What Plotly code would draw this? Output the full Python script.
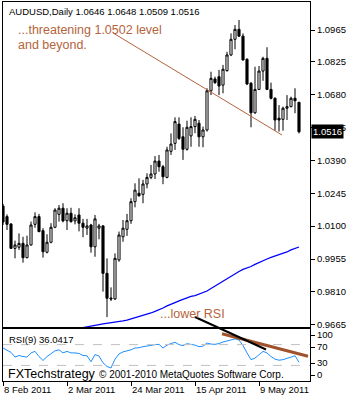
import plotly.graph_objects as go
import pandas as pd

# ---------------- data ----------------
dates = [d.strftime("%Y-%m-%d") for d in pd.bdate_range("2011-02-08", "2011-05-23")]

opens = [1.0189, 1.0142, 1.0109, 1.0002, 1.0007, 1.0024, 0.9961, 1.0017, 1.0108, 1.0142,
         1.0080, 0.9985, 1.0029, 1.0095, 1.0152, 1.0179, 1.0124, 1.0157, 1.0123, 1.0149,
         1.0113, 1.0091, 1.0105, 1.0009, 1.0091, 1.0101, 0.9892, 0.9783, 0.9779, 0.9951,
         1.0053, 1.0086, 1.0124, 1.0208, 1.0245, 1.0240, 1.0286, 1.0315, 1.0330, 1.0387,
         1.0362, 1.0315, 1.0430, 1.0465, 1.0550, 1.0494, 1.0439, 1.0498, 1.0539, 1.0554,
         1.0494, 1.0524, 1.0697, 1.0749, 1.0759, 1.0722, 1.0786, 1.0855, 1.0924, 1.0968,
         1.0938, 1.0836, 1.0730, 1.0600, 1.0703, 1.0784, 1.0840, 1.0703, 1.0664, 1.0576,
         1.0571, 1.0620, 1.0627, 1.0664, 1.0646]
highs = [1.0198, 1.0152, 1.0114, 1.0036, 1.0068, 1.0053, 1.0058, 1.0120, 1.0161, 1.0154,
         1.0091, 1.0064, 1.0113, 1.0179, 1.0193, 1.0201, 1.0179, 1.0181, 1.0152, 1.0179,
         1.0132, 1.0132, 1.0110, 1.0149, 1.0110, 1.0105, 0.9958, 0.9830, 0.9980, 1.0076,
         1.0127, 1.0154, 1.0223, 1.0289, 1.0311, 1.0304, 1.0333, 1.0370, 1.0409, 1.0414,
         1.0370, 1.0450, 1.0509, 1.0580, 1.0580, 1.0536, 1.0565, 1.0580, 1.0586, 1.0568,
         1.0539, 1.0708, 1.0781, 1.0759, 1.0789, 1.0811, 1.0869, 1.0950, 1.0987, 1.1009,
         1.0950, 1.0840, 1.0736, 1.0803, 1.0806, 1.0847, 1.0889, 1.0733, 1.0668, 1.0634,
         1.0627, 1.0678, 1.0671, 1.0708, 1.0648]
lows = [1.0105, 1.0083, 1.0001, 0.9958, 0.9995, 0.9939, 0.9958, 1.0014, 1.0093, 1.0073,
        0.9961, 0.9980, 1.0024, 1.0091, 1.0120, 1.0117, 1.0083, 1.0115, 1.0108, 1.0077,
        1.0051, 1.0061, 0.9983, 0.9965, 1.0042, 0.9811, 0.9699, 0.9770, 0.9774, 0.9943,
        1.0031, 1.0057, 1.0110, 1.0183, 1.0230, 1.0201, 1.0267, 1.0307, 1.0308, 1.0340,
        1.0285, 1.0311, 1.0414, 1.0436, 1.0480, 1.0392, 1.0433, 1.0450, 1.0510, 1.0450,
        1.0448, 1.0517, 1.0678, 1.0727, 1.0678, 1.0686, 1.0781, 1.0850, 1.0880, 1.0935,
        1.0830, 1.0722, 1.0536, 1.0595, 1.0700, 1.0741, 1.0700, 1.0659, 1.0521, 1.0517,
        1.0521, 1.0568, 1.0624, 1.0598, 1.0509]
closes = [1.0118, 1.0108, 1.0002, 1.0017, 1.0024, 0.9961, 1.0017, 1.0105, 1.0142, 1.0076,
          0.9987, 1.0029, 1.0095, 1.0171, 1.0179, 1.0123, 1.0157, 1.0120, 1.0137, 1.0113,
          1.0095, 1.0101, 1.0009, 1.0132, 1.0101, 0.9892, 0.9782, 0.9779, 0.9958, 1.0061,
          1.0091, 1.0124, 1.0208, 1.0259, 1.0234, 1.0286, 1.0315, 1.0330, 1.0387, 1.0362,
          1.0318, 1.0436, 1.0462, 1.0561, 1.0487, 1.0439, 1.0536, 1.0539, 1.0571, 1.0494,
          1.0524, 1.0697, 1.0752, 1.0733, 1.0718, 1.0792, 1.0855, 1.0924, 1.0968, 1.0938,
          1.0833, 1.0727, 1.0600, 1.0703, 1.0784, 1.0840, 1.0703, 1.0664, 1.0568, 1.0568,
          1.0620, 1.0627, 1.0664, 1.0653, 1.0516]

# long moving average (blue), only visible from late Feb onward
ma = [None] * 19 + [
    0.9649, 0.9653, 0.9657, 0.9660, 0.9662, 0.9666, 0.9669, 0.9671, 0.9673, 0.9675,
    0.9677, 0.9682, 0.9686, 0.9691, 0.9695, 0.9699, 0.9704, 0.9710, 0.9717, 0.9724,
    0.9730, 0.9739, 0.9748, 0.9757, 0.9763, 0.9770, 0.9777, 0.9783, 0.9790, 0.9794,
    0.9801, 0.9805, 0.9814, 0.9825, 0.9836, 0.9847, 0.9858, 0.9867, 0.9878, 0.9889,
    0.9900, 0.9909, 0.9915, 0.9922, 0.9931, 0.9940, 0.9946, 0.9955, 0.9962, 0.9968,
    0.9973, 0.9977, 0.9986, 0.9995, 1.0001, 1.0008]

rsi = [63.5, 59, 55, 46, 49, 47, 46, 54, 57, 47,
       39.4, 47, 52, 58, 60, 54, 57, 54, 54, 53,
       49, 48.5, 37, 51, 48, 35, 28, 25, 42, 52,
       56, 58, 60, 63.5, 64, 66, 66.6, 68.5, 70, 70.5,
       63.5, 69, 72, 74.4, 70, 68, 71.8, 70.5, 69, 66,
       67, 73, 71, 70.5, 72, 75, 77.5, 80, 81, 79,
       68, 54, 41, 44, 51, 57, 54, 47, 42, 40,
       41, 43, 46, 48.5, 36.0417]

price_ticks = [1.0965, 1.0825, 1.0680, 1.0535, 1.0390, 1.0245, 1.0100, 0.9955, 0.9810, 0.9665]
rsi_ticks = [100, 70, 30, 0]
date_tick_idx = [0, 16, 32, 48, 64]
date_tick_labels = ["8 Feb 2011", "2 Mar 2011", "24 Mar 2011", "15 Apr 2011", "9 May 2011"]

# ---------------- layout geometry ----------------
W, H = 350, 400
ML, MR, MT, MB = 3, 40, 2, 19
PH = H - MT - MB


def pp(py):  # pixel row -> paper y
    return (H - MB - py) / PH


FONT = "Tahoma, 'Liberation Sans', Arial, sans-serif"
BROWN = "#B4643C"
main_dom = [pp(327), 1.0]
rsi_dom = [0.0, pp(329)]
xr = [0, 76.75]

fig = go.Figure()
fig.add_trace(go.Candlestick(
    x=dates, open=opens, high=highs, low=lows, close=closes,
    increasing=dict(line=dict(color="black", width=1), fillcolor="white"),
    decreasing=dict(line=dict(color="black", width=1), fillcolor="black"),
    whiskerwidth=0, xaxis="x", yaxis="y", showlegend=False, hoverinfo="skip"))
fig.add_trace(go.Scatter(x=dates, y=ma, mode="lines", line=dict(color="#0000FF", width=1.3),
                         xaxis="x", yaxis="y", showlegend=False, hoverinfo="skip"))
fig.add_trace(go.Scatter(x=dates, y=rsi, mode="lines", line=dict(color="#1E90FF", width=1),
                         xaxis="x2", yaxis="y2", showlegend=False, hoverinfo="skip"))
fig.add_trace(go.Scatter(x=[], y=[], xaxis="x2", yaxis="y3", showlegend=False))

axis_common = dict(showgrid=False, zeroline=False, showline=True, mirror=True,
                   linecolor="black", linewidth=1)
fig.update_layout(
    width=W, height=H, autosize=False,
    margin=dict(l=ML, r=MR, t=MT, b=MB, pad=0),
    paper_bgcolor="white", plot_bgcolor="white",
    font=dict(family=FONT, size=9.5, color="black"),
    boxgap=0.25, showlegend=False,
    xaxis=dict(domain=[0, 1], anchor="y", type="category", range=xr, showticklabels=False,
               ticks="", rangeslider=dict(visible=False), **axis_common),
    xaxis2=dict(domain=[0, 1], anchor="y2", type="category", range=xr,
                tickvals=[dates[i] for i in date_tick_idx], ticktext=date_tick_labels,
                ticks="outside", ticklen=4, tickcolor="black",
                ticklabelposition="outside right", tickfont=dict(size=9.5),
                **axis_common),
    yaxis=dict(domain=main_dom, anchor="x", side="right", range=[0.96552, 1.10885],
               tickvals=price_ticks, ticktext=[f"{v:.4f}" for v in price_ticks],
               ticks="outside", ticklen=4, tickcolor="black", tickfont=dict(size=9.5),
               **axis_common),
    yaxis2=dict(domain=rsi_dom, anchor="x2", side="right", range=[0, 100],
                showticklabels=False, ticks="", **axis_common),
    yaxis3=dict(overlaying="y2", anchor="x2", side="right", range=[-15, 115],
                tickvals=rsi_ticks, ticktext=[str(v) for v in rsi_ticks],
                ticks="outside", ticklen=4, tickcolor="black", showgrid=False,
                zeroline=False, showline=False, tickfont=dict(size=9.5)),
)

shapes = [
    dict(type="line", xref="x", yref="y", x0=27.5, y0=1.0952, x1=69.75, y1=1.0502,
         line=dict(color=BROWN, width=1)),
    dict(type="line", xref="paper", yref="y2", x0=0, x1=1, y0=70, y1=70,
         line=dict(color="#C0C0C0", width=1, dash="dash")),
    dict(type="line", xref="paper", yref="y2", x0=0, x1=1, y0=30, y1=30,
         line=dict(color="#C0C0C0", width=1, dash="dash")),
    dict(type="line", xref="x2", yref="y2", x0=54.75, y0=91, x1=76.25, y1=47.5,
         line=dict(color="#A0522D", width=3)),
    dict(type="line", xref="x", yref="paper", x0=48, y0=pp(317), x1=65.75, y1=pp(349.5),
         line=dict(color="black", width=2)),
]
fig.update_layout(shapes=shapes)

ann = [
    dict(xref="paper", yref="paper", x=(7 - ML) / (W - ML - MR), y=pp(11),
         xanchor="left", yanchor="middle", showarrow=False,
         text=f"AUDUSD,Daily {opens[-1]:.4f} {highs[-1]:.4f} {lows[-1]:.4f} {closes[-1]:.4f}",
         font=dict(size=9.5, color="black")),
    dict(xref="x", yref="y", x=3.5, y=1.0963, xanchor="left", yanchor="middle",
         showarrow=False, text="...threatening 1.0502 level", borderpad=0,
         font=dict(size=12.5, color=BROWN)),
    dict(xref="x", yref="y", x=3.5, y=1.0900, xanchor="left", yanchor="middle",
         showarrow=False, text="and beyond.", borderpad=0,
         font=dict(size=12.5, color=BROWN)),
    dict(xref="x", yref="y", x=38.75, y=0.9713, xanchor="left", yanchor="middle",
         showarrow=False, text="...lower RSI", font=dict(size=12.5, color=BROWN)),
    dict(xref="paper", yref="y", x=1, y=closes[-1], xanchor="left", yanchor="middle",
         xshift=1, showarrow=False, text=f"{closes[-1]:.4f}", bgcolor="black",
         borderpad=1, font=dict(size=9.5, color="white")),
    dict(xref="paper", yref="paper", x=(7 - ML) / (W - ML - MR), y=pp(339),
         xanchor="left", yanchor="middle", showarrow=False,
         text=f"RSI(9) {rsi[-1]:.4f}", font=dict(size=9.5, color="black")),
    dict(xref="paper", yref="paper", x=(6 - ML) / (W - ML - MR), y=pp(374),
         xanchor="left", yanchor="middle", showarrow=False,
         text="FXTechstrategy", font=dict(size=12.5, color="black")),
    dict(xref="paper", yref="paper", x=(97 - ML) / (W - ML - MR), y=pp(374.5),
         xanchor="left", yanchor="middle", showarrow=False,
         text="\u00a9 2001-2010 MetaQuotes Software Corp.", font=dict(size=10, color="black")),
]
fig.update_layout(annotations=ann)

fig.write_html("out.html")
